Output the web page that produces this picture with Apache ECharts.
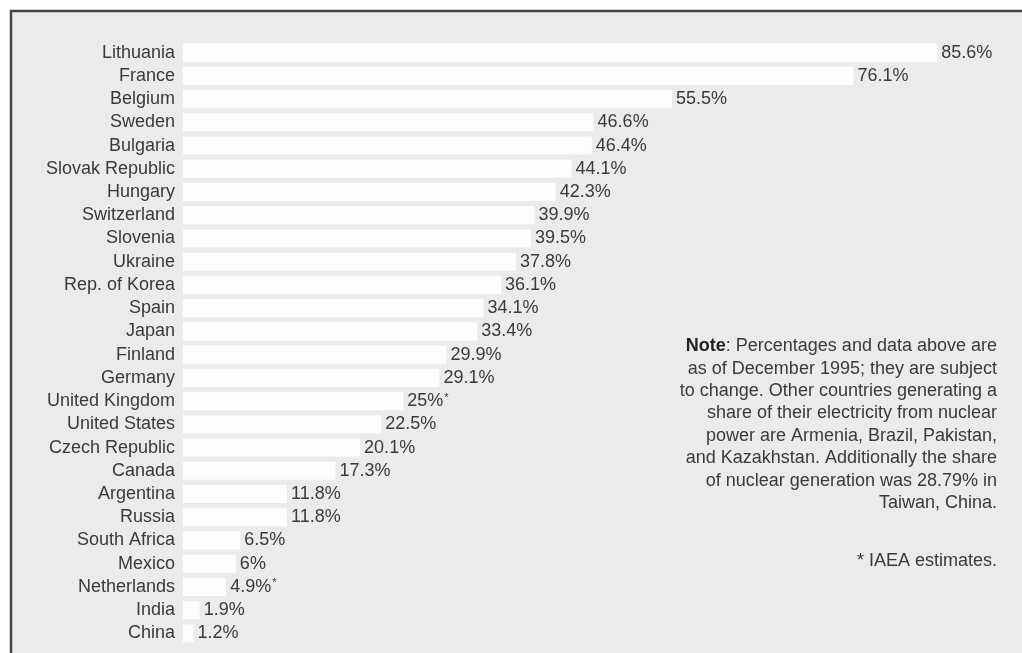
<!DOCTYPE html>
<html>
<head>
<meta charset="utf-8">
<script src="https://cdn.jsdelivr.net/npm/echarts@6/dist/echarts.min.js"></script>
<style>
  html, body { margin: 0; padding: 0; background: #fff; }
  #chart { width: 1022px; height: 653px; }
</style>
</head>
<body>
<div id="chart"></div>
<script>
const countries = [
  'Lithuania', 'France', 'Belgium', 'Sweden', 'Bulgaria', 'Slovak Republic',
  'Hungary', 'Switzerland', 'Slovenia', 'Ukraine', 'Rep. of Korea', 'Spain',
  'Japan', 'Finland', 'Germany', 'United Kingdom', 'United States',
  'Czech Republic', 'Canada', 'Argentina', 'Russia', 'South Africa', 'Mexico',
  'Netherlands', 'India', 'China'
]
const nuclearShare = [
  85.6, 76.1, 55.5, 46.6, 46.4, 44.1, 42.3, 39.9, 39.5, 37.8, 36.1, 34.1,
  33.4, 29.9, 29.1, 25, 22.5, 20.1, 17.3, 11.8, 11.8, 6.5, 6, 4.9, 1.9, 1.2
]
// IAEA estimates, marked with an asterisk
const estimated = ['United Kingdom', 'Netherlands']

const noteText = [
  '{b|Note}: Percentages and data above are',
  'as of December 1995; they are subject',
  'to change. Other countries generating a',
  'share of their electricity from nuclear',
  'power are Armenia, Brazil, Pakistan,',
  'and Kazakhstan. Additionally the share',
  'of nuclear generation was 28.79% in',
  'Taiwan, China.'
].join('\n')

const font = "'Liberation Sans', Arial, Helvetica, sans-serif"
const ink = '#3a3a3a'
const fs = 18

const chart = echarts.init(document.getElementById('chart'), null, { renderer: 'canvas' })

chart.setOption({
  animation: false,
  textStyle: { fontFamily: font },
  graphic: [
    {
      type: 'rect',
      z: -10,
      silent: true,
      shape: { x: 11, y: 11, width: 1030, height: 660 },
      style: { fill: '#ebebeb', stroke: '#454545', lineWidth: 2.5 }
    },
    {
      type: 'text',
      x: 997,
      y: 335,
      silent: true,
      style: {
        text: noteText,
        align: 'right',
        verticalAlign: 'top',
        font: fs + 'px ' + font,
        fill: ink,
        lineHeight: 22.4,
        rich: {
          b: { fontWeight: 'bold', fontSize: fs, fontFamily: font, lineHeight: 22.4, fill: '#222' }
        }
      }
    },
    {
      type: 'text',
      x: 997,
      y: 552,
      silent: true,
      style: {
        text: '* IAEA estimates.',
        align: 'right',
        verticalAlign: 'top',
        font: fs + 'px ' + font,
        fill: ink
      }
    }
  ],
  grid: { left: 183, right: 46, top: 41, bottom: 8, containLabel: false },
  xAxis: {
    type: 'value',
    min: 0,
    max: 90,
    show: false
  },
  yAxis: {
    type: 'category',
    inverse: true,
    data: countries,
    axisLine: { show: false },
    axisTick: { show: false },
    splitLine: { show: false },
    axisLabel: { interval: 0, color: ink, fontSize: fs, fontFamily: font, margin: 8 }
  },
  series: [{
    type: 'bar',
    data: nuclearShare,
    barCategoryGap: '22%',
    itemStyle: { color: '#fdfdfd' },
    label: {
      show: true,
      position: 'right',
      distance: 4,
      color: ink,
      fontSize: fs,
      fontFamily: font,
      formatter: (p) => p.value + '%' + (estimated.includes(p.name) ? '{s|*}' : ''),
      rich: {
        s: { fontSize: 11, color: ink, verticalAlign: 'top', padding: [0, 0, 6, 1] }
      }
    }
  }]
})
</script>
</body>
</html>
